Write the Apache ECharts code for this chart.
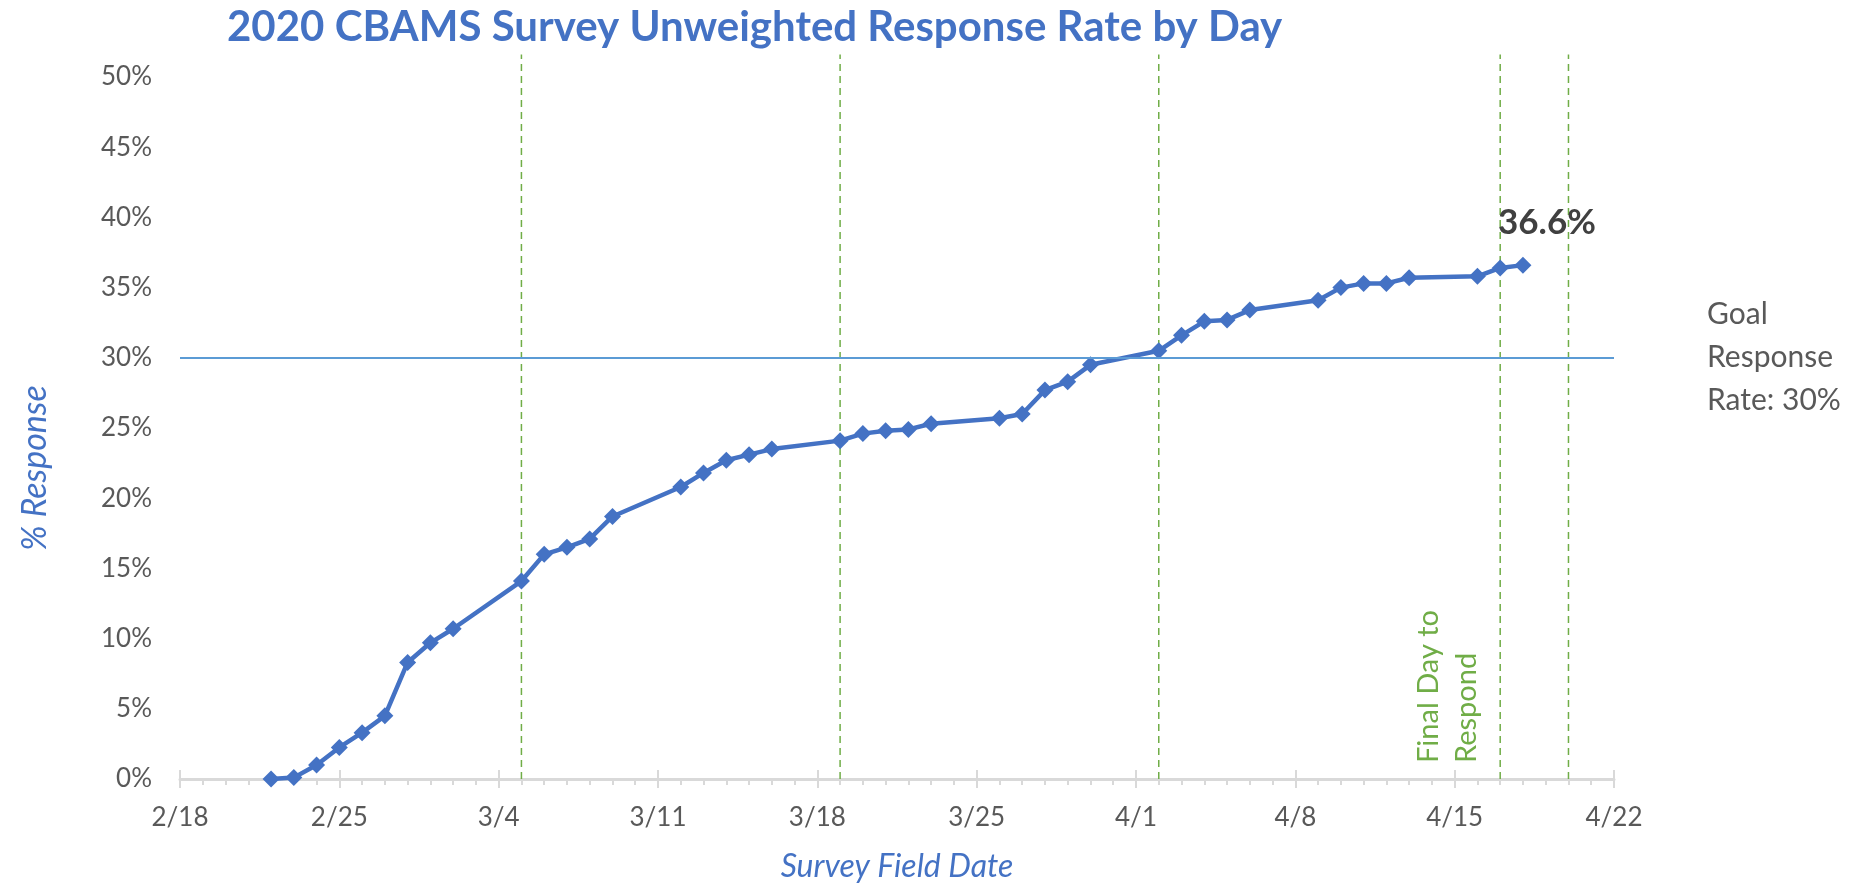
<!DOCTYPE html>
<html>
<head>
<meta charset="utf-8">
<script src="https://cdn.jsdelivr.net/npm/echarts@6/dist/echarts.min.js"></script>
<style>
  html, body { margin: 0; padding: 0; background: #fff; }
  #main { width: 1852px; height: 889px; }
</style>
</head>
<body>
<div id="main"></div>
<script>
const tickLabels = ['2/18', '2/25', '3/4', '3/11', '3/18', '3/25', '4/1', '4/8', '4/15', '4/22'];

const surveyDates = [
  '2/22', '2/23', '2/24', '2/25', '2/26', '2/27', '2/28', '3/1', '3/2',
  '3/5', '3/6', '3/7', '3/8', '3/9',
  '3/12', '3/13', '3/14', '3/15', '3/16',
  '3/19', '3/20', '3/21', '3/22', '3/23',
  '3/26', '3/27', '3/28', '3/29', '3/30',
  '4/2', '4/3', '4/4', '4/5', '4/6',
  '4/9', '4/10', '4/11', '4/12', '4/13',
  '4/16', '4/17', '4/18'
];

// unweighted response rate, %
const responseRate = [
  0, 0.1, 1.0, 2.25, 3.3, 4.5, 8.3, 9.7, 10.7,
  14.1, 16.0, 16.5, 17.1, 18.7,
  20.8, 21.8, 22.7, 23.1, 23.5,
  24.1, 24.6, 24.8, 24.9, 25.3,
  25.7, 26.0, 27.7, 28.3, 29.5,
  30.5, 31.6, 32.6, 32.7, 33.4,
  34.1, 35.0, 35.3, 35.3, 35.7,
  35.8, 36.4, 36.6
];

const markerDates = ['3/5', '3/19', '4/2', '4/17', '4/20'];
const finalDay = '4/17';
const goalRate = 30;

const FONT = 'Lato, "Open Sans", sans-serif';
const BLUE = '#4472c4';
const GREEN = '#70ad47';
const GRAY = '#595959';

// days since the first tick label (axis counts 7 days between 2/25 and 3/4)
function dayOf(md) {
  const [m, d] = md.split('/').map(Number);
  const [m0, d0] = tickLabels[0].split('/').map(Number);
  return (Date.UTC(2021, m - 1, d) - Date.UTC(2021, m0 - 1, d0)) / 86400000;
}

const xMax = dayOf(tickLabels[tickLabels.length - 1]);
const gridTop = 77, gridBottom = 110;
const gridHeight = 889 - gridTop - gridBottom;

const chartDom = document.getElementById('main');
const myChart = echarts.init(chartDom);

const lineData = surveyDates.map((d, i) => {
  const item = { value: [dayOf(d), responseRate[i]] };
  if (i === surveyDates.length - 1) {
    item.label = {
      show: true,
      position: 'top',
      distance: 16,
      offset: [24, 0],
      fontFamily: FONT,
      fontSize: 35,
      fontWeight: 'bold',
      color: '#404040',
      formatter: p => p.value[1].toFixed(1) + '%'
    };
  }
  return item;
});

// dashed vertical markers, running a little above the 50% line
const markerSeries = markerDates.map(d => ({
  type: 'line',
  silent: true,
  clip: false,
  symbol: 'none',
  z: 1,
  lineStyle: { color: GREEN, width: 1.5, type: [7, 5] },
  data: [[dayOf(d), 0], [dayOf(d), 51.6]]
}));

const option = {
  animation: false,
  title: {
    text: '2020 CBAMS Survey Unweighted Response Rate by Day',
    left: 222,
    top: 1,
    textStyle: { fontFamily: FONT, fontSize: 42, fontWeight: 'bold', color: BLUE }
  },
  grid: { left: 180, right: 238, top: gridTop, bottom: gridBottom },
  xAxis: [
    {
      type: 'value',
      min: 0,
      max: xMax,
      interval: 7,
      name: 'Survey Field Date',
      nameLocation: 'middle',
      nameGap: 72,
      nameTextStyle: { fontFamily: FONT, fontSize: 32, fontStyle: 'italic', color: BLUE },
      axisLine: { show: true, lineStyle: { color: '#d9d9d9', width: 3 } },
      axisTick: { show: true, length: 9, lineStyle: { color: '#d9d9d9', width: 2 } },
      minorTick: { show: true, splitNumber: 7, length: 6, lineStyle: { color: '#d9d9d9', width: 2 } },
      splitLine: { show: false },
      axisLabel: {
        margin: 26,
        fontFamily: FONT,
        fontSize: 26,
        color: GRAY,
        formatter: v => tickLabels[Math.round(v / 7)] || ''
      }
    },
    {
      // upper half of the major ticks
      type: 'value',
      position: 'top',
      offset: -gridHeight,
      min: 0,
      max: xMax,
      interval: 7,
      axisLine: { show: false },
      axisTick: { show: true, length: 9, lineStyle: { color: '#d9d9d9', width: 2 } },
      axisLabel: { show: false },
      splitLine: { show: false }
    }
  ],
  yAxis: {
    type: 'value',
    min: 0,
    max: 50,
    interval: 5,
    name: '% Response',
    nameLocation: 'middle',
    nameGap: 128,
    nameTextStyle: {
      fontFamily: FONT, fontSize: 34, fontStyle: 'italic', color: BLUE,
      padding: [0, 80, 0, 0]
    },
    axisLine: { show: false },
    axisTick: { show: false },
    splitLine: { show: false },
    axisLabel: {
      margin: 28,
      fontFamily: FONT,
      fontSize: 26,
      color: GRAY,
      formatter: '{value}%'
    }
  },
  series: [
    ...markerSeries,
    {
      name: 'Response Rate',
      type: 'line',
      z: 3,
      symbol: 'diamond',
      symbolSize: 17,
      itemStyle: { color: BLUE },
      lineStyle: { color: BLUE, width: 4.5 },
      data: lineData,
      markLine: {
        silent: true,
        symbol: ['none', 'none'],
        lineStyle: { color: '#5b9bd5', width: 2, type: 'solid' },
        label: {
          show: true,
          position: 'end',
          distance: 93,
          align: 'left',
          fontFamily: FONT,
          fontSize: 30,
          lineHeight: 43,
          color: GRAY,
          formatter: 'Goal\nResponse\nRate: ' + goalRate + '%'
        },
        data: [{ yAxis: goalRate }]
      }
    }
  ]
};

myChart.setOption(option);

// rotated note beside the final-day marker
const fp = myChart.convertToPixel({ xAxisIndex: 0, yAxisIndex: 0 }, [dayOf(finalDay), 0]);
myChart.setOption({
  graphic: [{
    type: 'text',
    x: fp[0] - 15,
    y: fp[1] - 16,
    rotation: Math.PI / 2,
    silent: true,
    style: {
      text: 'Final Day to\nRespond',
      fontFamily: FONT,
      fontSize: 29,
      lineHeight: 38,
      fill: GREEN,
      align: 'left',
      verticalAlign: 'bottom'
    }
  }]
});

window.addEventListener('resize', () => myChart.resize());
</script>
</body>
</html>
